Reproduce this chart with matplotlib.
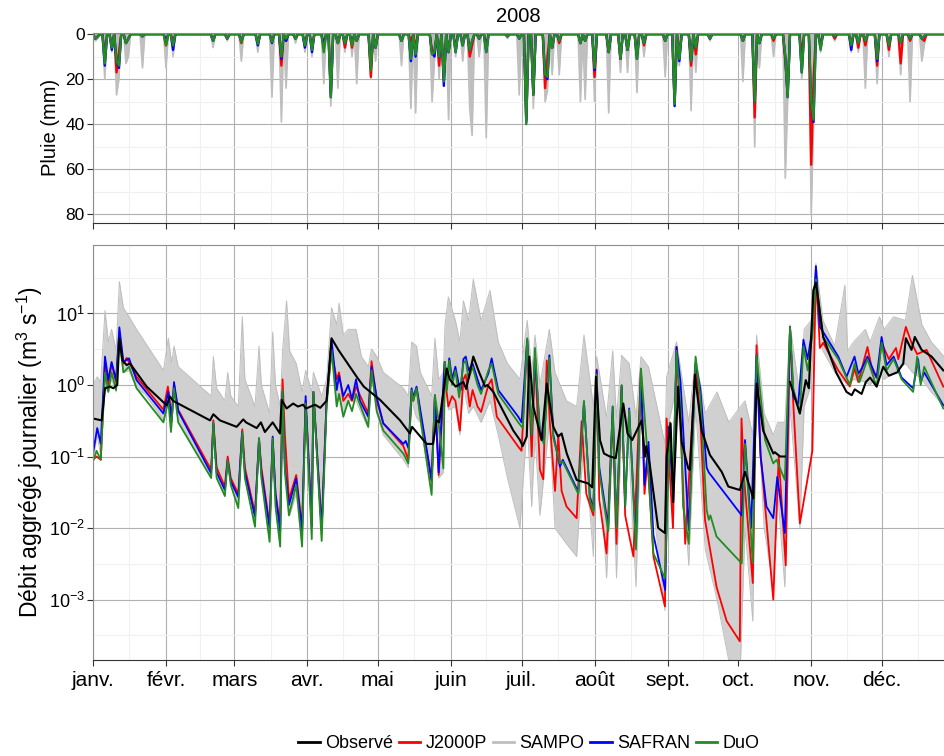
import numpy as np
import matplotlib
matplotlib.use("Agg")
import matplotlib.pyplot as plt
from matplotlib.lines import Line2D

plt.rcParams["font.family"] = ["Liberation Sans", "DejaVu Sans"]
plt.rcParams["mathtext.fontset"] = "custom"
plt.rcParams["mathtext.rm"] = "Liberation Sans"
plt.rcParams["mathtext.it"] = "Liberation Sans:italic"
plt.rcParams["mathtext.default"] = "regular"

# ---- data --------------------------------------------------------------
month_labels = ["janv.", "févr.", "mars", "avr.", "mai", "juin",
                "juil.", "août", "sept.", "oct.", "nov.", "déc."]

# daily rainfall (mm) on rainy days, day 0 = 1 Jan 2008
rain_days = [1, 2, 5, 8, 10, 11, 14, 15, 21, 31, 34, 51, 57, 63, 70, 76, 80, 82,
             86, 90, 93, 98, 101, 104, 107, 110, 112, 118, 120, 131, 135, 137, 144,
             145, 147, 149, 151, 154, 157, 160, 161, 164, 167, 176, 181, 184, 187,
             192, 193, 195, 198, 207, 209, 213, 219, 224, 227, 231, 234, 243, 247,
             249, 254, 256, 262, 276, 281, 283, 289, 294, 295, 301, 305, 306, 309,
             315, 322, 325, 328, 333, 338, 343, 347, 352, 353]
rain_j2000p = [2, 1, 9, 5, 17, 8, 4, 2, 1, 5, 3, 3, 2, 4, 4, 3, 14, 3,
               2, 5, 6, 6, 26, 4, 6, 6, 3, 19, 6, 3, 3, 6, 9,
               7, 14, 20, 8, 6, 4, 10, 5, 2, 5, 1, 2, 38, 26,
               24, 10, 6, 4, 4, 3, 19, 8, 11, 7, 9, 5, 3, 30,
               9, 14, 9, 2, 3, 37, 4, 3, 12, 26, 9, 58, 20, 5,
               2, 4, 6, 5, 14, 7, 13, 3, 2, 3]
rain_safran = [2, 1, 14, 7, 12, 15, 4, 2, 1, 3, 7, 3, 2, 3, 5, 4, 11, 3,
               2, 6, 8, 5, 28, 4, 4, 4, 3, 15, 6, 3, 12, 10, 8,
               10, 10, 23, 8, 8, 5, 7, 3, 2, 8, 1, 2, 39, 27,
               18, 20, 6, 3, 4, 3, 16, 8, 11, 7, 11, 4, 3, 32,
               12, 12, 6, 2, 3, 30, 4, 2, 10, 28, 17, 30, 39, 6,
               1, 7, 4, 3, 12, 5, 4, 2, 2, 1]
rain_duo = [2, 1, 13, 6, 12, 14, 4, 2, 1, 5, 5, 3, 2, 3.5, 4.3, 3.5, 10, 2,
            2, 5, 7, 8, 28, 4, 4, 5, 3, 16, 6, 3, 11, 9, 9,
            8, 10, 21, 8, 8, 5, 7, 3, 2, 8, 1, 2, 40, 27,
            18, 19, 6, 3, 4, 3, 15, 8, 11, 7, 11, 4, 3, 31,
            11, 12, 6, 2, 3, 30, 4, 2, 10, 28, 17, 30, 38, 7,
            1, 5, 4, 3, 11, 5, 4, 2, 2, 1]
rain_sampo_max = [3, 2, 20, 8, 27, 20, 13, 10, 15, 15, 10, 6, 3, 12, 8, 28, 39, 24,
                  4, 8, 10, 22, 32, 24, 8, 10, 22, 20, 12, 14, 33, 35, 30,
                  12, 20, 22, 38, 10, 12, 33, 45, 10, 46, 2, 27, 40, 33,
                  30, 25, 18, 18, 30, 29, 30, 35, 17, 17, 26, 10, 19, 32,
                  14, 34, 17, 3, 21, 50, 15, 10, 64, 30, 20, 80, 40, 8,
                  3, 8, 8, 24, 22, 10, 18, 30, 12, 5]

# daily aggregated discharge (m3/s), (day, value) at the turning points
observe = [(0, 0.34), (3.7, 0.32), (5.1, 0.9), (7.2, 0.95), (8.6, 0.9), (10.3, 1.0),
           (11.2, 4.5), (12.5, 2.2), (14.3, 1.9), (15.7, 2.0), (22.8, 0.95), (31.3, 0.52),
           (32.7, 0.69), (34, 0.6), (49.7, 0.32), (51.1, 0.39), (53.9, 0.32), (61, 0.26),
           (63.8, 0.33), (65, 0.3), (69.5, 0.25), (71.3, 0.3), (73, 0.22), (76.3, 0.3),
           (79.4, 0.21), (80.1, 0.62), (82.2, 0.47), (85, 0.55), (87, 0.5), (89.2, 0.53),
           (90.5, 0.47), (94.3, 0.53), (96.5, 0.48), (99.2, 0.6), (101.3, 4.5),
           (104.2, 3.1), (112, 1.3), (115, 0.95), (121.9, 0.62), (130.4, 0.32),
           (134.6, 0.21), (135.5, 0.26), (141.7, 0.15), (144.4, 0.15), (145.9, 0.32),
           (147, 0.3), (150.2, 1.7), (151.5, 1.2), (154, 0.95), (157.3, 1.1),
           (158.5, 0.88), (161.5, 2.5), (164, 1.5), (166.5, 0.95), (167.5, 1.0),
           (170, 0.8), (178.5, 0.23), (181.3, 0.17), (182.5, 0.14), (184.2, 0.19),
           (185.3, 2.5), (187, 0.5), (190.5, 0.17), (192.7, 1.05), (195.5, 0.26),
           (197.5, 0.19), (199, 0.21), (201.2, 0.11), (205.4, 0.047), (210.3, 0.042),
           (212, 0.037), (213.6, 1.3), (215.3, 0.17), (217, 0.11), (219.5, 0.1),
           (222, 0.095), (225.2, 0.55), (227, 0.21), (229, 0.17), (233, 0.32),
           (234.4, 0.1), (235, 0.14), (236.5, 0.075), (240, 0.01), (242.9, 0.0085),
           (243.6, 0.1), (245.3, 0.29), (246.4, 0.023), (248.5, 0.95), (250, 0.16),
           (252.8, 0.068), (253.5, 0.065), (255.6, 1.4), (258.5, 0.23), (262, 0.105),
           (267, 0.061), (269.8, 0.038), (274.7, 0.034), (276.9, 0.061), (280.4, 0.026),
           (281.8, 1.05), (284.6, 0.23), (288.9, 0.11), (289.5, 0.115), (291.8, 0.1),
           (293.8, 0.1), (295, np.nan), (296, 1.1), (300.2, 0.4), (302.7, 1.17),
           (304, 0.9), (305.9, 21), (307, 27), (310.1, 4.7), (315.8, 1.45), (320, 0.8),
           (322.2, 0.72), (323.5, 0.87), (326.4, 0.75), (328.2, 1.1), (330, 1.27),
           (332.8, 0.95), (335.6, 1.8), (338, 1.35), (341.5, 1.5), (344.1, 2.0),
           (345.2, 4.5), (347.6, 3.1), (349, 4.7), (351.9, 3.1), (356.1, 2.5),
           (361.1, 1.6)]

safran = [(0, 0.11), (1.8, 0.25), (3.3, 0.15), (5.1, 2.5), (6.5, 1.17), (7.9, 2.1),
          (9.8, 1.17), (11.2, 6.4), (12.9, 2.1), (15.3, 2.36), (18.5, 1.17), (29.9, 0.4),
          (32, 0.8), (33.4, 0.31), (34.4, 1.1), (36.2, 0.43), (50.2, 0.058), (51.1, 0.29),
          (52.5, 0.06), (56, 0.034), (57.2, 0.09), (58.5, 0.045), (61.7, 0.027),
          (63.3, 0.22), (64.5, 0.06), (68.8, 0.0144), (70.5, 0.18), (71.5, 0.06),
          (75, 0.01), (76.3, 0.19), (77.5, 0.03), (79.5, 0.009), (80.5, 0.8), (81.5, 0.07),
          (83.2, 0.021), (86.3, 0.049), (88.8, 0.009), (90.3, 0.7), (92.9, 0.0104),
          (93.6, 0.8), (97.1, 0.0094), (99.2, 0.62), (101.3, 4.3), (103.5, 0.85),
          (104.5, 1.35), (106.3, 0.7), (108.4, 1.0), (110, 0.63), (111.7, 1.2),
          (113.4, 0.6), (116.9, 0.36), (118.3, 1.8), (120.5, 0.67), (123.3, 0.29),
          (131.8, 0.15), (132.8, 0.165), (134, 0.13), (135.3, 0.9), (136, 0.67),
          (137.4, 0.95), (139, 0.45), (143.8, 0.047), (145.2, 0.72), (146.8, 0.06),
          (149.3, 2.1), (150.3, 0.95), (151.3, 2.36), (152.5, 1.2), (153.9, 1.8),
          (155.5, 0.95), (156.2, 0.85), (157.3, 2.3), (158.3, 2.5), (159.5, 1.6),
          (161.2, 2.0), (163.3, 1.2), (164.8, 0.85), (167.9, 1.45), (169.3, 2.36),
          (172.1, 0.85), (180.6, 0.36), (182, 0.3), (184.4, 4.3), (186.3, 0.2),
          (187.7, 2.6), (189.8, 0.22), (191.5, 0.17), (193.8, 2.6), (195.5, 0.2),
          (198.3, 0.072), (199.5, 0.09), (206.1, 0.032), (208.5, 0.58), (211, 0.028),
          (212.5, 0.018), (213.9, 1.6), (215, 0.07), (218.8, 0.0104), (220.7, 0.5),
          (222.3, 0.011), (224.5, 0.97), (226, 0.02), (227.7, 0.47), (230.6, 0.006),
          (232.7, 1.65), (234.2, 0.04), (235.9, 0.16), (238, 0.008), (243, 0.00136),
          (244.5, 0.26), (246.3, 0.03), (247.8, 3.4), (249.5, 1.1), (253, 0.0094),
          (255.9, 2.0), (257.9, 0.9), (260.6, 0.07), (261.5, 0.06), (275.5, 0.015),
          (276.9, 0.17), (279.5, 0.01), (281.8, 2.6), (283.5, 0.1), (286, 0.02),
          (288.9, 0.0137), (290.6, 0.052), (293.8, 0.0085), (296, 6.5), (297.4, 0.69),
          (299.5, 0.55), (301.7, 4.3), (303.5, 2.3), (305.5, 6.0), (307, 46),
          (308.7, 6.5), (310.1, 5.5), (316.5, 2.5), (320, 1.3), (323.4, 2.5),
          (325, 1.45), (326.5, 1.7), (328.9, 2.5), (332.8, 1.27), (334.9, 4.7),
          (337, 1.9), (340, 2.5), (343.4, 1.27), (348.3, 0.9), (350.4, 2.3),
          (351.5, 1.1), (353, 1.5), (361.1, 0.52)]

j2000p = [(0, 0.09), (1.5, 0.1), (3.3, 0.09), (5.1, 2.0), (6.5, 1.0), (7.9, 2.0),
          (9.8, 1.1), (11.2, 5.5), (12.9, 2.0), (14.3, 2.4), (18.5, 1.3), (29.9, 0.45),
          (31.8, 0.95), (33.4, 0.35), (34.4, 1.0), (36.2, 0.45), (50.2, 0.065),
          (51.1, 0.32), (52.5, 0.07), (56, 0.038), (57.2, 0.1), (58.5, 0.05), (61.7, 0.03),
          (63.4, 0.24), (64.5, 0.07), (68.8, 0.016), (70.5, 0.17), (71.5, 0.07),
          (75, 0.011), (76.3, 0.17), (77.5, 0.03), (79.5, 0.011), (80.5, 1.2), (81.5, 0.2),
          (83.2, 0.025), (86.3, 0.055), (88.8, 0.01), (90.3, 0.6), (92.9, 0.011),
          (93.6, 0.8), (97.1, 0.01), (99.2, 0.6), (101.3, 3.0), (103.5, 1.2), (104.5, 1.5),
          (106.3, 0.6), (108.4, 0.75), (110, 0.6), (111.7, 0.95), (116.9, 0.4),
          (118.3, 2.15), (120.5, 0.6), (123.3, 0.29), (131.8, 0.14), (133.9, 0.09),
          (135.3, 0.8), (136, 0.6), (137.4, 0.9), (139, 0.4), (143.8, 0.045), (145.2, 0.7),
          (146.8, 0.055), (149.3, 1.4), (150.9, 0.5), (152.5, 0.7), (153.9, 0.6),
          (155.8, 0.23), (157.3, 1.2), (158.3, 1.4), (160, 0.5), (161.2, 0.85),
          (163.3, 0.5), (164.8, 0.42), (167.9, 1.0), (169.3, 1.2), (171.5, 0.36),
          (180.6, 0.137), (182, 0.12), (184.4, 4.3), (186.3, 0.1), (187.7, 2.6),
          (189.8, 0.065), (191.2, 0.048), (192.7, 2.2), (194, 0.3), (196.2, 0.033),
          (197.6, 0.2), (199, 0.033), (201.1, 0.02), (205.4, 0.0137), (207.5, 0.31),
          (209.5, 0.03), (212.5, 0.015), (213.9, 1.65), (215, 0.025), (218.1, 0.0044),
          (220.7, 0.4), (222.3, 0.006), (224.5, 0.97), (226, 0.015), (229.5, 0.004),
          (232.7, 1.65), (234.2, 0.03), (235.5, 0.09), (238, 0.004), (242.9, 0.0008),
          (243.6, 0.34), (246.3, 0.01), (247.8, 3.4), (249.5, 0.3), (251.5, 0.006),
          (255.9, 2.0), (257.9, 0.35), (259.9, 0.013), (264.8, 0.0015), (269.1, 0.0005),
          (274.7, 0.00026), (275.4, 0.34), (276.5, 0.05), (280.2, 0.0017), (281.8, 3.6),
          (283.5, 0.11), (288.9, 0.001), (291.2, 0.1), (294.2, 0.003), (296, 6.5),
          (297.4, 0.55), (300.2, 0.0116), (305.5, 0.12), (307, 36), (308.7, 3.3),
          (310.1, 3.9), (316.5, 1.6), (321.4, 0.95), (323.4, 1.7), (325, 1.1),
          (328.9, 3.4), (331, 1.55), (333, 1.25), (334.9, 3.9), (338, 2.3), (341, 3.3),
          (342, 2.3), (345.2, 6.5), (347.6, 3.9), (350, 2.7), (354, 3.1), (361.1, 0.95)]

duo = [(0, 0.085), (1.5, 0.12), (3.3, 0.09), (5.1, 1.5), (6.5, 0.8), (7.9, 1.5),
       (9.8, 0.85), (11.2, 4.5), (12.9, 1.5), (15.3, 1.8), (18.5, 0.9), (29.9, 0.3),
       (32, 0.6), (33.1, 0.22), (34.4, 0.9), (36.2, 0.3), (50.2, 0.05), (51.1, 0.3),
       (52.5, 0.05), (56, 0.028), (57.2, 0.09), (58.5, 0.04), (61.7, 0.019), (63.4, 0.22),
       (64.5, 0.05), (68.8, 0.0104), (70.5, 0.18), (71.5, 0.05), (75, 0.0064),
       (76.3, 0.18), (77.5, 0.02), (79.5, 0.0055), (80.5, 0.85), (81.5, 0.06),
       (83.2, 0.015), (86.3, 0.04), (88.8, 0.0055), (90.3, 0.55), (92.9, 0.007),
       (93.6, 0.8), (97.1, 0.0066), (99.2, 0.5), (101.3, 3.1), (103.5, 0.5), (104.5, 0.75),
       (106.3, 0.36), (108.4, 0.6), (110, 0.43), (111.7, 0.75), (116.9, 0.26),
       (118.3, 1.6), (120.5, 0.43), (123.3, 0.23), (131.8, 0.11), (133.9, 0.08),
       (135.3, 0.85), (136, 0.6), (137.4, 0.9), (139, 0.35), (143.8, 0.029),
       (145.2, 0.72), (146.5, 0.36), (148.8, 0.068), (149.5, 2.1), (150.3, 0.85),
       (151.3, 2.2), (152.5, 1.0), (153.9, 1.6), (155.5, 0.67), (157.3, 2.0),
       (158.3, 2.2), (159.5, 1.2), (161.2, 1.8), (163.3, 1.0), (164.8, 0.75),
       (167.9, 1.6), (169.3, 2.0), (172.1, 0.75), (180.6, 0.3), (182.5, 0.25),
       (184.4, 4.5), (186.3, 0.2), (187.7, 3.3), (189.8, 0.2), (191.5, 0.15),
       (193.8, 2.4), (195.5, 0.18), (198.3, 0.08), (199.5, 0.085), (206.1, 0.03),
       (208.5, 0.6), (211, 0.025), (212.5, 0.017), (213.9, 1.4), (215, 0.06),
       (218.8, 0.009), (220.7, 0.5), (222.3, 0.01), (224.5, 1.0), (226, 0.02),
       (227.7, 0.45), (230.6, 0.005), (232.7, 1.7), (235.1, 0.16), (238, 0.0044),
       (242.9, 0.002), (245, 0.3), (246.3, 0.04), (247.8, 3.0), (249.5, 0.5),
       (250.6, 0.02), (253, 0.006), (255.9, 2.5), (257.9, 0.7), (260.6, 0.018),
       (261.5, 0.013), (262.2, 0.015), (264.8, 0.0076), (275.5, 0.0032), (276.9, 0.15),
       (280.2, 0.0032), (281.8, 2.6), (285.4, 0.17), (288.9, 0.08), (290.3, 0.09),
       (293.8, 0.047), (296, 6.5), (297.4, 0.9), (300.2, 0.4), (301.7, 3.5),
       (303.5, 1.6), (305.5, 5.0), (307, 30), (310.1, 4.7), (316.5, 2.3), (321.4, 1.0),
       (323.4, 2.0), (325.5, 1.1), (328.9, 2.3), (332.8, 0.95), (334.9, 3.9),
       (337, 1.6), (340, 2.3), (343.4, 1.2), (348.3, 0.8), (350, 2.5), (351.5, 1.0),
       (353, 1.8), (361.1, 0.47)]

# SAMPO ensemble: (day, lowest member, highest member)
sampo_band = [(0, 0.09, 1.0), (1.8, 0.2, 1.3), (3.3, 0.1, 1.1), (5.1, 0.9, 11),
              (6.5, 0.8, 4), (7.9, 1.2, 6), (9.8, 0.8, 3), (11.2, 3.5, 28),
              (12.9, 1.5, 12), (15.3, 1.6, 9), (18.5, 0.9, 6), (22, 0.75, 4),
              (29.9, 0.32, 1.6), (32, 0.6, 4.5), (33.4, 0.25, 2.0), (34.4, 0.8, 3.5),
              (36.2, 0.3, 1.8), (50.2, 0.05, 0.7), (51.1, 0.28, 2.5), (52.5, 0.05, 0.9),
              (56, 0.028, 0.6), (57.2, 0.09, 1.5), (58.5, 0.04, 0.7), (61.7, 0.019, 0.5),
              (63.4, 0.22, 9), (64.5, 0.05, 1.2), (68.8, 0.0104, 0.5), (70.5, 0.17, 3.5),
              (71.5, 0.05, 1.0), (75, 0.0064, 0.4), (76.3, 0.17, 5.5), (77.5, 0.02, 1.0),
              (79.5, 0.0055, 0.5), (80.5, 0.7, 3), (82.2, 0.1, 15), (83.5, 0.015, 3),
              (86.3, 0.03, 2), (88.8, 0.0055, 0.8), (90.3, 0.5, 1.6), (92.9, 0.007, 0.8),
              (93.6, 0.6, 1.5), (97.1, 0.0066, 0.7), (99.2, 0.5, 1.2), (101.3, 3.0, 12),
              (103.5, 0.5, 7), (104.5, 0.75, 14), (106.3, 0.36, 5), (108.4, 0.6, 6),
              (111.7, 0.6, 6), (114, 0.4, 2.5), (116.9, 0.25, 1.8), (118.3, 1.5, 3.2),
              (120.5, 0.4, 2.5), (123.3, 0.2, 1.5), (131.8, 0.09, 0.9), (133.9, 0.07, 0.7),
              (135.3, 0.6, 4), (137.4, 0.35, 3.5), (139, 0.3, 1.5), (143.8, 0.03, 0.7),
              (145.2, 0.5, 4.5), (146.8, 0.05, 1.2), (148.8, 0.06, 1.5), (149.5, 1.2, 7),
              (150.9, 0.45, 17), (153.9, 0.5, 8), (155.8, 0.2, 4), (157.3, 1.0, 15),
              (159.5, 0.4, 8), (161.5, 0.5, 30), (164.8, 0.3, 8), (168.6, 0.6, 21),
              (172.1, 0.2, 4), (176, 0.05, 2), (181.3, 0.01, 1.2), (184.4, 0.3, 8),
              (186.3, 0.02, 1.5), (187.7, 0.2, 5), (189.8, 0.015, 1.0), (193.8, 0.3, 6),
              (196.2, 0.01, 1.5), (201.1, 0.006, 0.6), (205.4, 0.004, 0.5), (208.5, 0.2, 5),
              (212.5, 0.004, 0.5), (213.9, 0.5, 2.5), (218.1, 0.002, 0.35), (220.7, 0.15, 3),
              (222.3, 0.002, 0.35), (224.5, 0.3, 2.6), (227.7, 0.1, 2), (230.6, 0.0015, 0.35),
              (232.7, 0.3, 2.5), (235.9, 0.08, 1.8), (242.9, 0.0007, 0.15), (243.6, 0.2, 1.3),
              (247.8, 1.0, 4), (253, 0.003, 0.3), (255.9, 0.5, 2.5), (260, 0.005, 0.4),
              (265, 0.001, 0.8), (270, 0.00014, 0.3), (275, 0.00014, 0.5), (276.9, 0.01, 0.6),
              (280.2, 0.0005, 0.2), (281.8, 1.0, 5), (285, 0.01, 0.4), (288.9, 0.0015, 0.2),
              (290.8, 0.03, 0.3), (293.8, 0.0015, 0.3), (296, 0.5, 7), (300.2, 0.01, 0.7),
              (302, 0.5, 6), (305, 1.0, 8), (307, 20, 50), (310, 3, 8), (315, 1.5, 3.5),
              (319.3, 1.1, 25), (320.5, 1.0, 3), (323, 1.2, 4), (328, 1.1, 6), (330, 1.0, 4),
              (334, 1.5, 9), (336, 1.2, 6), (340, 1.5, 9), (345, 2, 8), (348, 1.5, 34),
              (352, 1.2, 7), (356, 0.8, 4), (361.4, 0.5, 2.5)]

# ---- styling -------------------------------------------------------------
C_OBS, C_J2K, C_SAMPO, C_SAF, C_DUO = "black", "#ff0000", "#bebebe", "#0000ff", "#228b22"
GRID_MAJ, GRID_MIN = "#b0b0b0", "#f0f0f0"
N_DAYS = 362
X_MAX = 361.4

months = np.arange("2008-01", "2009-01", dtype="datetime64[M]")
month_days = (months.astype("datetime64[D]") - np.datetime64("2008-01-01")).astype(int)
mid_month = np.append((month_days[:-1] + month_days[1:]) / 2, month_days[-1] + 15.5)


def daily(values):
    out = np.zeros(N_DAYS)
    out[np.array(rain_days)] = values
    return out


def unzip(pairs):
    arr = np.array(pairs, dtype=float)
    return arr[:, 0], arr[:, 1]


def style_axes(ax):
    ax.set_xlim(0, X_MAX)
    ax.set_xticks(month_days)
    ax.set_xticks(mid_month, minor=True)
    ax.grid(True, which="major", color=GRID_MAJ, lw=0.8)
    ax.grid(True, which="minor", color=GRID_MIN, lw=0.8)
    ax.set_axisbelow(True)
    for side in ["top", "left"]:
        ax.spines[side].set_color("#8c8c8c")
    ax.spines["right"].set_visible(False)
    ax.spines["bottom"].set_color("#333333")
    ax.tick_params(which="major", length=4, width=0.8, color="#333333",
                   labelsize=12.5, pad=2)
    ax.tick_params(which="minor", length=0)


fig = plt.figure(figsize=(9.44, 7.56), dpi=100)
ax_r = fig.add_axes([93 / 944, 1 - 223 / 756, 1 - 93 / 944, 190 / 756])
ax_q = fig.add_axes([93 / 944, 1 - 660 / 756, 1 - 93 / 944, 415 / 756])

# ---- rainfall panel --------------------------------------------------------
days = np.arange(N_DAYS)
sampo_r = daily(rain_sampo_max)
ax_r.fill_between(days, 0, sampo_r, color=C_SAMPO, lw=0)
ax_r.plot(days, sampo_r, color=C_SAMPO, lw=1.2)
ax_r.plot(days, daily(rain_j2000p), color=C_J2K, lw=1.7)
ax_r.plot(days, daily(rain_safran), color=C_SAF, lw=1.7)
ax_r.plot(days, daily(rain_duo), color=C_DUO, lw=1.7)
style_axes(ax_r)
ax_r.set_ylim(83.9, -0.5)
ax_r.set_yticks([0, 20, 40, 60, 80])
ax_r.set_yticks([10, 30, 50, 70], minor=True)
ax_r.set_xticklabels([])
fig.text(50 / 944, 1 - 127 / 756, "Pluie (mm)", rotation=90, ha="center",
         va="center", fontsize=14.5)
fig.text((93 + 944) / 2 / 944, 1 - 17 / 756, "2008", ha="center", va="center",
         fontsize=14.5)

# ---- discharge panel -------------------------------------------------------
t_band, lo_band, hi_band = np.array(sampo_band, dtype=float).T
ax_q.fill_between(t_band, lo_band, hi_band, color="#d0d0d0", lw=0)
ax_q.plot(t_band, hi_band, color=C_SAMPO, lw=0.7)
ax_q.plot(t_band, lo_band, color=C_SAMPO, lw=0.7)
for pairs, col in [(j2000p, C_J2K), (safran, C_SAF), (duo, C_DUO)]:
    t, q = unzip(pairs)
    ax_q.plot(t, q, color=col, lw=1.3)
t, q = unzip(observe)
ax_q.plot(t, q, color=C_OBS, lw=1.5)

ax_q.set_yscale("log")
style_axes(ax_q)
ax_q.set_ylim(10 ** -3.846, 10 ** 1.958)
ax_q.set_yticks([1e-3, 1e-2, 1e-1, 1, 10])
ax_q.set_yticklabels([r"$10^{-3}$", r"$10^{-2}$", r"$10^{-1}$", r"$10^{0}$", r"$10^{1}$"])
ax_q.set_yticks([10 ** (k + 0.5) for k in range(-4, 2)], minor=True)
ax_q.yaxis.set_minor_formatter(plt.NullFormatter())
ax_q.tick_params(axis="y", labelsize=13)
ax_q.set_xticklabels(month_labels)
ax_q.tick_params(axis="x", labelsize=15, pad=4)
fig.text(30 / 944, 1 - 452 / 756, r"Débit aggrégé journalier (m$^{3}$ s$^{-1}$)",
         rotation=90, ha="center", va="center", fontsize=16.5)

# ---- legend ----------------------------------------------------------------
handles = [Line2D([], [], color=c, lw=2) for c in [C_OBS, C_J2K, C_SAMPO, C_SAF, C_DUO]]
fig.legend(handles, ["Observé", "J2000P", "SAMPO", "SAFRAN", "DuO"],
           loc="center", bbox_to_anchor=(529 / 944, 1 - 744 / 756), ncol=5,
           frameon=False, fontsize=13, handlelength=1.2, handletextpad=0.3,
           columnspacing=0.3)

fig.savefig("out.png", dpi=100)
